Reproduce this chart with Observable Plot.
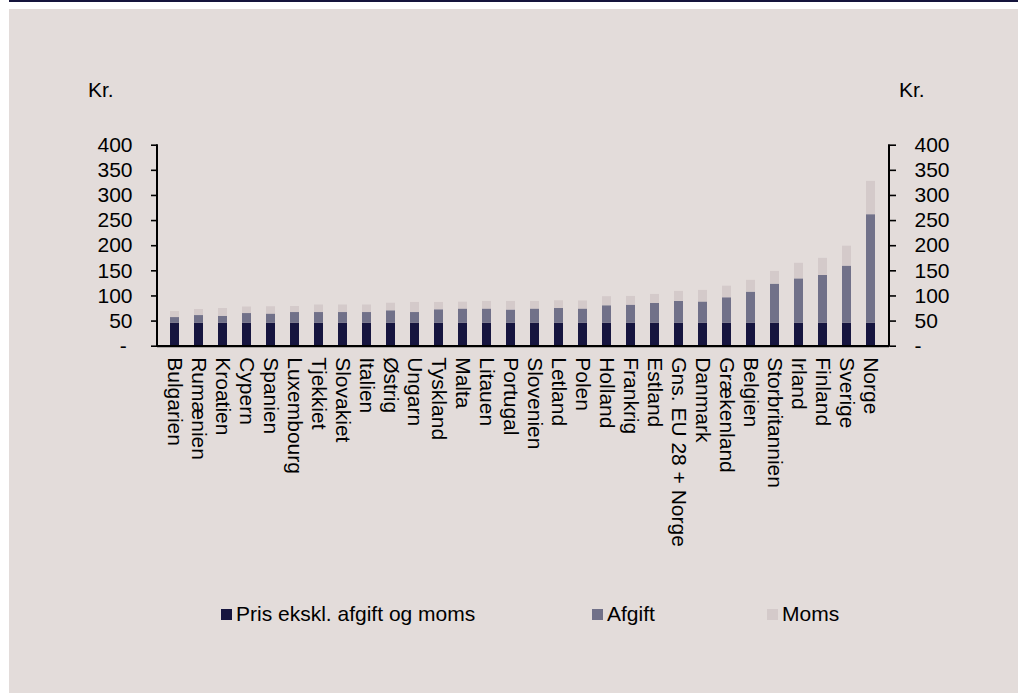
<!DOCTYPE html>
<html>
<head>
<meta charset="utf-8">
<script src="https://cdn.jsdelivr.net/npm/d3@7"></script>
<script src="https://cdn.jsdelivr.net/npm/@observablehq/plot@0.6"></script>
<style>
  html, body { margin: 0; padding: 0; background: #ffffff; width: 1018px; height: 693px; overflow: hidden; }
  body { position: relative; font-family: "Liberation Sans", Arial, sans-serif; color: #000; }
  #topline { position: absolute; left: 9px; right: 0; top: 0; height: 2px; background: #15143c; }
  #panel { position: absolute; left: 9px; right: 0; top: 9px; bottom: 0; background: #e3dcda; }
  #chart { position: absolute; left: 0; top: 0; }
  .unit { position: absolute; font-size: 21px; line-height: 21px; top: 70px; }
  .legend-item { position: absolute; top: 593px; display: flex; align-items: center; font-size: 21px; line-height: 24px; white-space: nowrap; }
  .swatch { width: 11px; height: 11px; margin-right: 4px; display: inline-block; }
</style>
</head>
<body>
<div id="topline"></div>
<div id="panel">
  <div id="chart"></div>
  <div class="unit" style="left:79px">Kr.</div>
  <div class="unit" style="left:890px">Kr.</div>
  <div id="legend"></div>
</div>
<script>
const categories = ["Bulgarien","Rumænien","Kroatien","Cypern","Spanien","Luxembourg","Tjekkiet","Slovakiet","Italien","Østrig","Ungarn","Tyskland","Malta","Litauen","Portugal","Slovenien","Letland","Polen","Holland","Frankrig","Estland","Gns. EU 28 + Norge","Danmark","Grækenland","Belgien","Storbritannien","Irland","Finland","Sverige","Norge"];
const pris   = [46,46,46,46,46,46,46,46,46,46,46,46,46,46,46,46,46,46,46,46,46,46,46,46,46,46,46,46,46,46];
const afgift = [11,15,13.5,19,18,21,21,21,21,24.5,21,26.5,28,28,26,28,29,28,34.5,35.7,39,43,42,50.4,61.6,77.5,88,94.8,113.4,215.7];
const moms   = [12,12,15.5,13,14.5,12,15,15,15,15,20,14.5,13.6,15,17,15,15.4,16,18,17.3,18,20,23,23,23.4,25.3,31,34,39.6,66.3];
const seriesNames = ["Pris ekskl. afgift og moms","Afgift","Moms"];
const seriesColors = ["#16153f","#717189","#d4caca"];
const yTicks = [0,50,100,150,200,250,300,350,400];

const rows = categories.flatMap((c, i) => [
  {c, s: seriesNames[0], v: pris[i]},
  {c, s: seriesNames[1], v: afgift[i]},
  {c, s: seriesNames[2], v: moms[i]}
]);

const fmt = d => d === 0 ? "-\u00a0" : String(d);

// vertical axis lines drawn from the plot's own scales and dimensions
function axisLines(index, scales, values, dims) {
  const g = d3.create("svg:g").attr("stroke", "#000").attr("stroke-width", 2);
  const y0 = scales.y(0), y1 = scales.y(400);
  const xl = dims.marginLeft, xr = dims.width - dims.marginRight;
  [xl, xr].forEach(x => g.append("line").attr("x1", x).attr("x2", x).attr("y1", y1 - 0.5).attr("y2", y0 + 1));
  return g.node();
}

const chart = Plot.plot({
  width: 1009,
  height: 560,
  marginLeft: 148,
  marginRight: 129,
  marginTop: 135.7,
  marginBottom: 223.3,
  style: {background: "transparent", fontFamily: "'Liberation Sans', Arial, sans-serif", fontSize: "21px", color: "#000", overflow: "visible"},
  x: {type: "band", domain: categories, paddingInner: 0.61, paddingOuter: 0.305, axis: null},
  y: {domain: [0, 400], axis: null},
  color: {domain: seriesNames, range: seriesColors},
  marks: [
    Plot.barY(rows, {x: "c", y: "v", fill: "s"}),
    Plot.axisX({tickRotate: 90, tickSize: 0, tickPadding: 11, fontSize: 21, label: null}),
    Plot.axisY({anchor: "left", ticks: yTicks, tickFormat: fmt, tickSize: 6, tickPadding: 19, fontSize: 21, label: null, stroke: "#000", strokeWidth: 1.6}),
    Plot.axisY({anchor: "right", ticks: yTicks, tickFormat: d => d === 0 ? "-" : String(d), tickSize: 6, tickPadding: 19, fontSize: 21, label: null, stroke: "#000", strokeWidth: 1.6}),
    axisLines,
    Plot.ruleY([0], {stroke: "#000", strokeWidth: 2.2})
  ]
});
document.getElementById("chart").appendChild(chart);

const legendPos = [212, 583, 758];
const legend = document.getElementById("legend");
seriesNames.forEach((name, i) => {
  const item = document.createElement("div");
  item.className = "legend-item";
  item.style.left = legendPos[i] + "px";
  const sw = document.createElement("span");
  sw.className = "swatch";
  sw.style.background = seriesColors[i];
  item.appendChild(sw);
  item.appendChild(document.createTextNode(name));
  legend.appendChild(item);
});
</script>
</body>
</html>
